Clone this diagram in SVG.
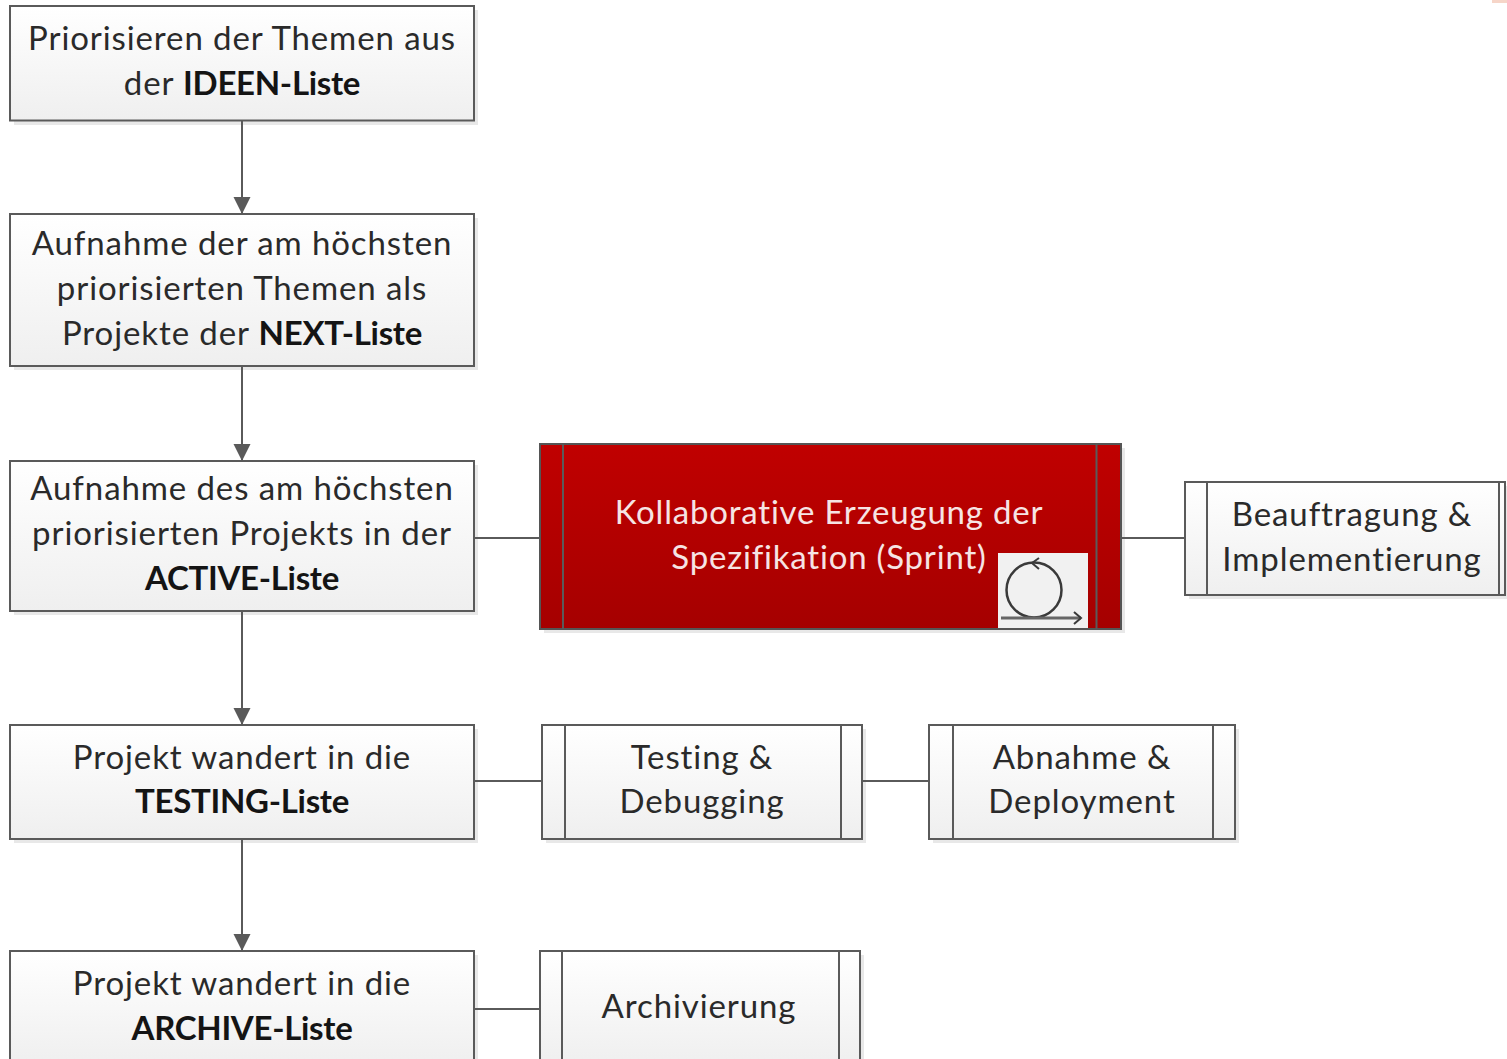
<svg xmlns="http://www.w3.org/2000/svg" width="1507" height="1059" viewBox="0 0 1507 1059">
<style>
text{font-family:Lato,Carlito,"Liberation Sans",sans-serif;font-size:33px;fill:#2a2a2a;text-anchor:middle;letter-spacing:.9px}
.b{font-weight:700;fill:#141414;letter-spacing:-.3px}
.w{fill:#f6e4e4;letter-spacing:.8px}
.box{fill:url(#g);stroke:#5a5a5a;stroke-width:2}
.red{fill:url(#r);stroke:#555;stroke-width:2}
.sh{fill:#d9d9d9;opacity:.6}
.div{fill:none;stroke:#5a5a5a;stroke-width:2}
.con{fill:none;stroke:#5a5a5a;stroke-width:2}
</style>
<defs>
<linearGradient id="g" x1="0" y1="0" x2="0" y2="1"><stop offset="0" stop-color="#fff"/><stop offset="1" stop-color="#efefef"/></linearGradient>
<linearGradient id="r" x1="0" y1="0" x2="0" y2="1"><stop offset="0" stop-color="#c00000"/><stop offset="1" stop-color="#a50000"/></linearGradient>
<marker id="a" markerUnits="userSpaceOnUse" markerWidth="18" markerHeight="20" refX="16" refY="10" orient="auto"><path d="M0 1.500L17 10L0 18.500Z" fill="#5a5a5a"/></marker>
</defs>
<rect width="1507" height="1059" fill="#fff"/>
<rect x="1492" y="0" width="15" height="3" fill="#f6d5c8"/>
<g id="n1"><rect class="sh" x="14" y="10" width="464" height="115"/><rect class="box" x="10" y="6" width="464" height="114.500"/>
<text x="242" y="50">Priorisieren der Themen aus</text><text x="242" y="95">der <tspan class="b">IDEEN-Liste</tspan></text></g>
<g id="n2"><rect class="sh" x="14" y="218" width="464" height="152"/><rect class="box" x="10" y="214" width="464" height="152"/>
<text x="242" y="255">Aufnahme der am höchsten</text><text x="242" y="300">priorisierten Themen als</text><text x="242" y="345">Projekte der <tspan class="b">NEXT-Liste</tspan></text></g>
<g id="n3"><rect class="sh" x="14" y="465" width="464" height="150"/><rect class="box" x="10" y="461" width="464" height="150"/>
<text x="242" y="500">Aufnahme des am höchsten</text><text x="242" y="545">priorisierten Projekts in der</text><text x="242" y="590" class="b">ACTIVE-Liste</text></g>
<g id="n4"><rect class="sh" x="14" y="729" width="464" height="114"/><rect class="box" x="10" y="725" width="464" height="114"/>
<text x="242" y="769">Projekt wandert in die</text><text x="242" y="813" class="b">TESTING-Liste</text></g>
<g id="n5"><rect class="sh" x="14" y="955" width="464" height="114"/><rect class="box" x="10" y="951" width="464" height="114"/>
<text x="242" y="995">Projekt wandert in die</text><text x="242" y="1040" class="b">ARCHIVE-Liste</text></g>
<g id="n6"><rect class="sh" x="544" y="448" width="581" height="185"/><rect class="red" x="540" y="444" width="581" height="185"/>
<path class="div" d="M563 444V629M1096.500 444V629"/>
<text class="w" x="829" y="524">Kollaborative Erzeugung der</text><text class="w" x="829" y="569">Spezifikation (Sprint)</text>
<rect x="998" y="553" width="90" height="75" fill="#f1f1f1"/>
<circle cx="1034" cy="590" r="27.500" fill="none" stroke="#3a3a3a" stroke-width="2.500"/>
<path d="M1039 558L1032 563L1039 569" fill="none" stroke="#3a3a3a" stroke-width="2"/>
<path d="M1001 618H1081" stroke="#666" stroke-width="3" fill="none"/>
<path d="M1074 612L1081 618L1074 624" fill="none" stroke="#3a3a3a" stroke-width="2"/></g>
<g id="n7"><rect class="sh" x="1189" y="486" width="322" height="113"/><rect class="box" x="1185" y="482" width="320" height="113"/>
<path class="div" d="M1207 482V595M1499 482V595"/>
<text x="1352" y="526">Beauftragung &amp;</text><text x="1352" y="571">Implementierung</text></g>
<g id="n8"><rect class="sh" x="546" y="729" width="320" height="114"/><rect class="box" x="542" y="725" width="320" height="114"/>
<path class="div" d="M565 725V839M841 725V839"/>
<text x="702" y="769">Testing &amp;</text><text x="702" y="813">Debugging</text></g>
<g id="n9"><rect class="sh" x="933" y="729" width="306" height="114"/><rect class="box" x="929" y="725" width="306" height="114"/>
<path class="div" d="M953 725V839M1213 725V839"/>
<text x="1082" y="769">Abnahme &amp;</text><text x="1082" y="813">Deployment</text></g>
<g id="n10"><rect class="sh" x="544" y="955" width="320" height="114"/><rect class="box" x="540" y="951" width="320" height="114"/>
<path class="div" d="M562 951V1065M839 951V1065"/>
<text x="699" y="1018">Archivierung</text></g>
<g id="connectors">
<path class="con" d="M242 121V213" marker-end="url(#a)"/>
<path class="con" d="M242 366V460" marker-end="url(#a)"/>
<path class="con" d="M242 611V724" marker-end="url(#a)"/>
<path class="con" d="M242 839V950" marker-end="url(#a)"/>
<path class="con" d="M475 538H540"/>
<path class="con" d="M1122 538H1185"/>
<path class="con" d="M475 781H542"/>
<path class="con" d="M863 781H929"/>
<path class="con" d="M475 1009H540"/>
</g>
</svg>
